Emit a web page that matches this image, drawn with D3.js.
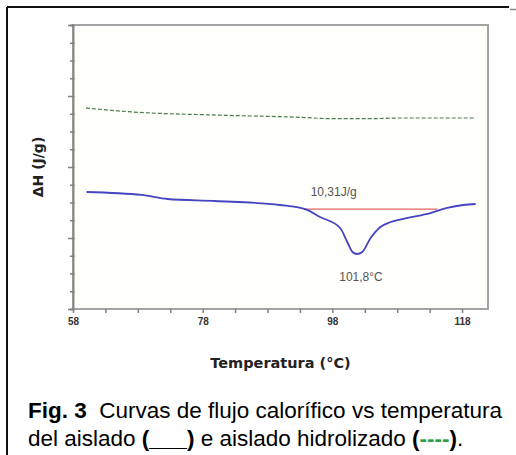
<!DOCTYPE html>
<html>
<head>
<meta charset="utf-8">
<script src="https://cdn.jsdelivr.net/npm/d3@7"></script>
<style>
  body { margin: 0; background: #fff; }
  text { white-space: pre; }
</style>
</head>
<body>
<div id="chart"></div>
<script>
// DSC curves, values (y has no units on the plot)
const tempHidro = [60, 67.2, 80.7, 93.0, 98.1, 103.4, 108.5, 120.1];
const dhHidro   = [2.83, 2.775, 2.73, 2.70, 2.68, 2.68, 2.69, 2.69];

const tempAislado = [60.1, 68.6, 72.6, 79.9, 89.9, 93.8, 96.1, 99.2, 100.3, 101.1, 101.8,
                     102.6, 103.9, 105.4, 107.0, 109.6, 113.1, 115.7, 118.2, 120.1];
const dhAislado   = [1.648, 1.606, 1.549, 1.521, 1.465, 1.408, 1.296, 1.141, 0.944, 0.803, 0.775,
                     0.803, 0.999, 1.155, 1.225, 1.282, 1.352, 1.423, 1.465, 1.479];

const baseTemp = [93.6, 114.2];
const baseDh   = [1.408, 1.408];

const xTickLabels = [58, 78, 98, 118];

const width = 516, height = 455;
const margin = {top: 25, right: 28, bottom: 146, left: 73};

const svg = d3.select("#chart")
  .append("svg")
  .attr("width", width)
  .attr("height", height);

// outer figure frame (top + left only)
svg.append("line").attr("x1", 7).attr("x2", 509).attr("y1", 7).attr("y2", 7)
  .attr("stroke", "#111").attr("stroke-width", 2);
svg.append("line").attr("x1", 7).attr("x2", 7).attr("y1", 7).attr("y2", height)
  .attr("stroke", "#111").attr("stroke-width", 2);
svg.append("line").attr("x1", 510).attr("x2", 516).attr("y1", 9.5).attr("y2", 9.5)
  .attr("stroke", "#888").attr("stroke-width", 1.5);

let xScale = d3.scaleLinear()
  .domain([58, 122])
  .range([margin.left, width - margin.right]);

let yScale = d3.scaleLinear()
  .domain([0, 4])
  .range([height - margin.bottom, margin.top]);

// plot background + frame
svg.append("rect")
  .attr("x", margin.left).attr("y", margin.top)
  .attr("width", xScale.range()[1] - margin.left)
  .attr("height", yScale.range()[0] - margin.top)
  .attr("fill", "#fefefa")
  .attr("stroke", "#a4a4a4")
  .attr("stroke-width", 2);

// y axis, minor + major ticks, no labels
const yMinor = d3.range(0, 4.01, 0.25);
svg.append("g")
  .attr("transform", `translate(${margin.left},0)`)
  .call(d3.axisLeft(yScale).tickValues(yMinor).tickSize(3).tickFormat(""))
  .call(g => g.select(".domain").attr("stroke", "#888").attr("stroke-width", 2))
  .call(g => g.selectAll(".tick line").attr("stroke", "#808080").attr("stroke-width", 1.5)
    .attr("x1", 1.5)
    .attr("x2", d => Number.isInteger(d) ? -5 : -3));

// x axis
const xTicks = d3.range(58, 119, 5);
svg.append("g")
  .attr("transform", `translate(0,${yScale(0)})`)
  .call(d3.axisBottom(xScale).tickValues(xTicks).tickSize(3)
    .tickFormat(d => xTickLabels.includes(d) ? d : ""))
  .call(g => g.select(".domain").remove())
  .call(g => g.selectAll(".tick line").attr("stroke", "#808080").attr("stroke-width", 1.5)
    .attr("y1", 0).attr("y2", 4))
  .call(g => g.selectAll(".tick text")
    .attr("font-family", "Arial, 'Liberation Sans', sans-serif")
    .attr("font-weight", "bold")
    .attr("font-size", "10px")
    .attr("fill", "#333")
    .attr("dy", "0.95em"));

// axis titles
svg.append("text")
  .attr("x", (xScale.range()[0] + xScale.range()[1]) / 2)
  .attr("y", 368)
  .attr("text-anchor", "middle")
  .attr("font-family", "'DejaVu Sans', sans-serif")
  .attr("font-weight", "bold")
  .attr("font-size", "14.5px")
  .attr("fill", "#222")
  .text("Temperatura (°C)");

svg.append("text")
  .attr("transform", `translate(43,${(yScale.range()[0] + yScale.range()[1]) / 2}) rotate(-90)`)
  .attr("text-anchor", "middle")
  .attr("font-family", "'DejaVu Sans', sans-serif")
  .attr("font-weight", "bold")
  .attr("font-size", "14px")
  .attr("fill", "#222")
  .text("ΔH (J/g)");

// curves
const line = d3.line()
  .x(d => xScale(d[0]))
  .y(d => yScale(d[1]))
  .curve(d3.curveMonotoneX);

svg.append("path")
  .datum(d3.zip(baseTemp, baseDh))
  .attr("d", line)
  .attr("fill", "none")
  .attr("stroke", "#e26262")
  .attr("stroke-width", 1.3);

svg.append("path")
  .datum(d3.zip(tempHidro, dhHidro))
  .attr("d", line)
  .attr("fill", "none")
  .attr("stroke", "#4f7a52")
  .attr("stroke-width", 1.2)
  .attr("stroke-dasharray", "4,2");

svg.append("path")
  .datum(d3.zip(tempAislado, dhAislado))
  .attr("d", line)
  .attr("fill", "none")
  .attr("stroke", "#4545c4")
  .attr("stroke-width", 1.8);

// annotations
svg.append("text")
  .attr("x", xScale(98.2)).attr("y", 196)
  .attr("text-anchor", "middle")
  .attr("font-family", "Arial, 'Liberation Sans', sans-serif")
  .attr("font-size", "12px")
  .attr("fill", "#555")
  .text("10,31J/g");

svg.append("text")
  .attr("x", xScale(101.8) + 4).attr("y", 281)
  .attr("text-anchor", "middle")
  .attr("font-family", "Arial, 'Liberation Sans', sans-serif")
  .attr("font-size", "12px")
  .attr("fill", "#555")
  .text("101,8°C");

// caption
const cap = svg.append("g")
  .attr("font-family", "Arial, 'Liberation Sans', sans-serif")
  .attr("font-size", "22.5px")
  .attr("fill", "#000");

const c1 = cap.append("text").attr("x", 28).attr("y", 418);
c1.append("tspan").attr("font-weight", "bold").text("Fig. 3");
c1.append("tspan").text("  Curvas de flujo calorífico vs temperatura");

const c2 = cap.append("text").attr("x", 28).attr("y", 446);
c2.append("tspan").text("del aislado ");
c2.append("tspan").attr("font-weight", "bold").text("(___)");
c2.append("tspan").text(" e aislado hidrolizado ");
c2.append("tspan").attr("font-weight", "bold").text("(");
c2.append("tspan").attr("font-weight", "bold").attr("fill", "#2e9e4e").text("----");
c2.append("tspan").attr("font-weight", "bold").text(")");
c2.append("tspan").text(".");
</script>
</body>
</html>
